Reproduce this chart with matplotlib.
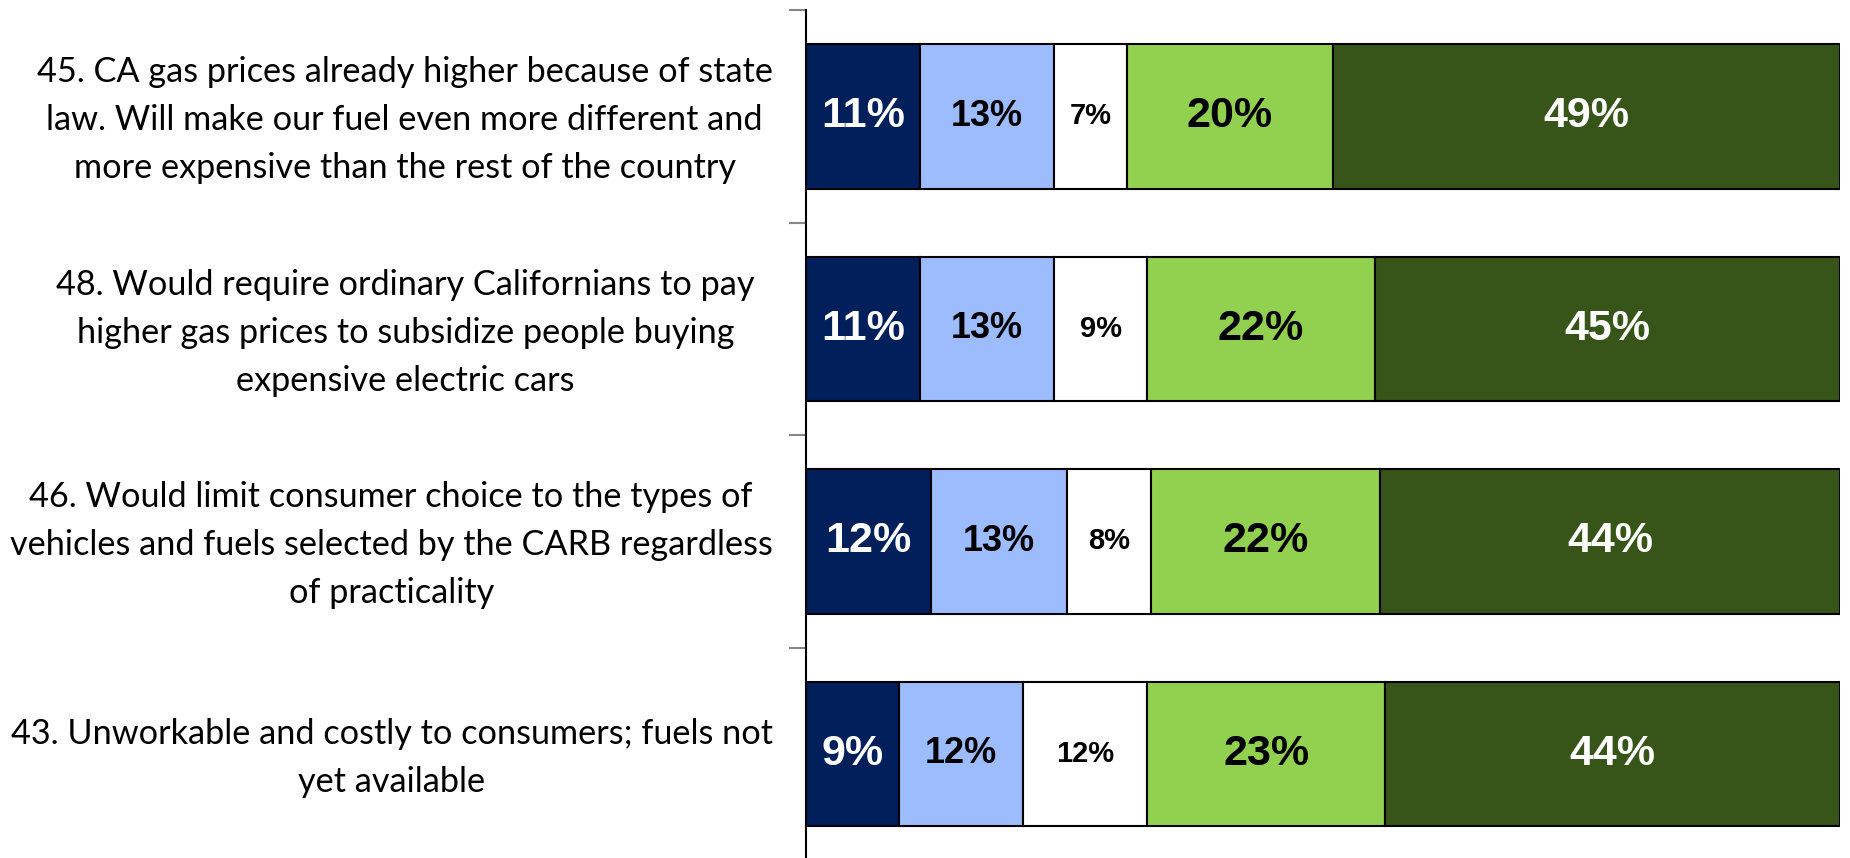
import matplotlib
matplotlib.use("Agg")
import matplotlib.pyplot as plt
from matplotlib.transforms import ScaledTranslation
import numpy as np

categories = [
    "45. CA gas prices already higher because of state\nlaw. Will make our fuel even more different and\nmore expensive than the rest of the country",
    "48. Would require ordinary Californians to pay\nhigher gas prices to subsidize people buying\nexpensive electric cars",
    "46. Would limit consumer choice to the types of\nvehicles and fuels selected by the CARB regardless\nof practicality",
    "43. Unworkable and costly to consumers; fuels not\nyet available",
]
strongly_oppose = [11, 11, 12, 9]
somewhat_oppose = [13, 13, 13, 12]
undecided = [7, 9, 8, 12]
somewhat_support = [20, 22, 22, 23]
strongly_support = [49, 45, 44, 44]

series = [strongly_oppose, somewhat_oppose, undecided, somewhat_support, strongly_support]
colors = ["#001F5B", "#9DBCFD", "#FFFFFF", "#92D050", "#375519"]
text_colors = ["white", "black", "black", "black", "white"]
label_sizes = [31, 26, 21, 31, 31]
label_x_shift_px = [0, -18, 0, 0]

fig = plt.figure(figsize=(18.5, 8.58), dpi=100)
ax = fig.add_axes([806 / 1850, -2 / 858, (1840 - 806) / 1850, 850 / 858])

data = np.array(series, dtype=float)
totals = data.sum(axis=0)
shares = data / totals * 100
y = np.arange(len(categories))
left = np.zeros(len(categories))
for vals, sh, c, tc, fs in zip(series, shares, colors, text_colors, label_sizes):
    bars = ax.barh(y, sh, left=left, height=0.68, color=c, edgecolor="black", linewidth=1.5)
    for b, v in zip(bars, vals):
        ax.text(b.get_x() + b.get_width() / 2, b.get_y() + b.get_height() / 2, f"{v}%",
                ha="center", va="center", color=tc, fontsize=fs, fontweight="bold",
                family="Liberation Sans")
    left += sh

ax.set_xlim(0, 100)
ax.set_ylim(len(categories) - 0.5, -0.5)
ax.set_yticks(y)
ax.set_yticklabels(categories, family="Lato", fontsize=24.7, multialignment="center",
                   linespacing=1.62)
ax.tick_params(axis="y", which="major", length=0, pad=24)
for lab, dx in zip(ax.get_yticklabels(), label_x_shift_px):
    lab.set_transform(lab.get_transform() + ScaledTranslation(dx / 100, 7 / 100, fig.dpi_scale_trans))
ax.set_yticks(np.arange(len(categories) + 1) - 0.5, minor=True)
ax.tick_params(axis="y", which="minor", length=12, color="#888888", width=1.5)
ax.set_xticks([])
for s in ["top", "right", "bottom"]:
    ax.spines[s].set_visible(False)
ax.spines["left"].set_linewidth(1.5)
ax.spines["left"].set_color("black")

fig.savefig("out.png", dpi=100)
